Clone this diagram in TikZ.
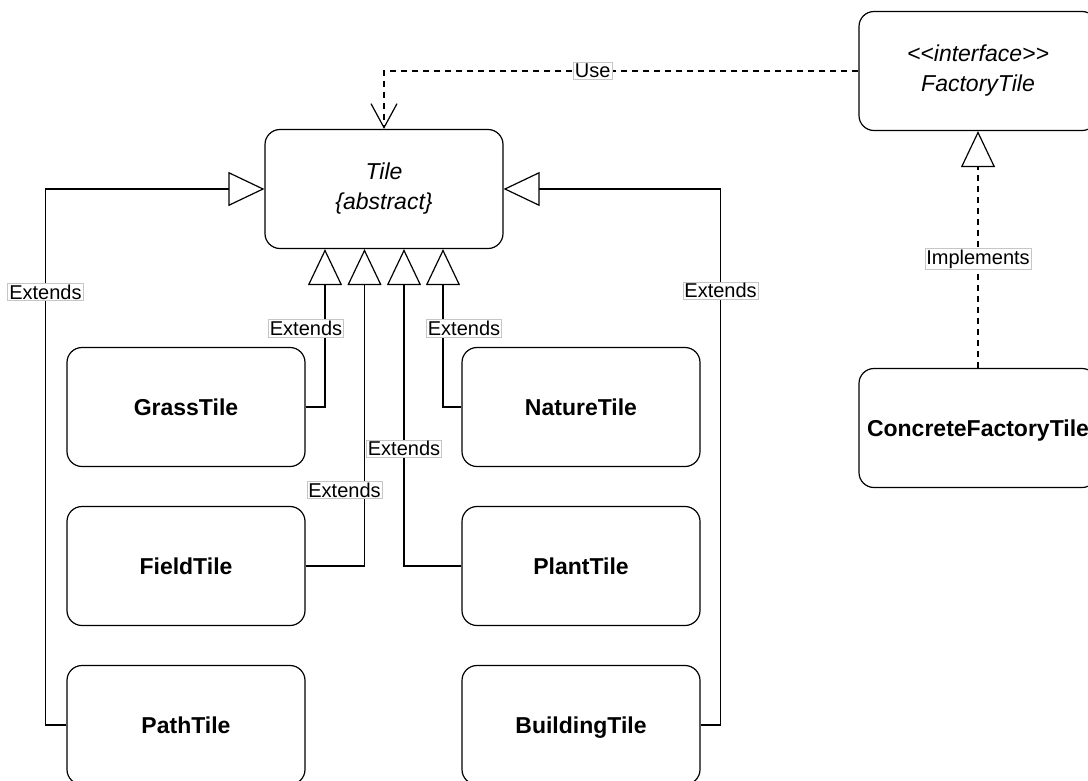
\documentclass[tikz,border=0pt]{standalone}
\usepackage{fontspec}
\setmainfont{Liberation Sans}
\usetikzlibrary{arrows.meta}
\tikzset{
  cls/.style={draw,rounded corners=15pt,minimum width=238pt,minimum height=119pt,align=center,line width=1.2pt,font=\fontsize{23}{30}\selectfont},
  leaf/.style={cls,text height=16.5pt,text depth=0pt},
  ext/.style={line width=1.2pt,-{Triangle[open,length=36pt,width=34pt]}},
  impl/.style={ext,dash pattern=on 6pt off 5pt},
  use/.style={line width=1.2pt,dash pattern=on 6pt off 5pt,-{Straight Barb[length=24pt,width=26pt]}},
  lbl/.style={solid,fill=white,draw=gray!45,line width=.6pt,inner sep=1.5pt,font=\fontsize{20}{22}\selectfont}
}
\begin{document}
\begin{tikzpicture}[x=1pt,y=-1pt]
\useasboundingbox(0,0)rectangle(1088,780);
\node[cls,font=\fontsize{23}{30}\selectfont\itshape](tile)at(384,189){Tile\\\{abstract\}};
\node[cls,font=\fontsize{23}{30}\selectfont\itshape](factory)at(978,71){{<}{<}interface{>}{>}\\FactoryTile};
\node[leaf](concrete)at(978,428){\textbf{ConcreteFactoryTile}};

\node[leaf](grass)at(186,407){\textbf{GrassTile}};
\node[leaf](field)at(186,566){\textbf{FieldTile}};
\node[leaf](path)at(186,725){\textbf{PathTile}};
\node[leaf](nature)at(581,407){\textbf{NatureTile}};
\node[leaf](plant)at(581,566){\textbf{PlantTile}};
\node[leaf](building)at(581,725){\textbf{BuildingTile}};

\draw[ext](grass.east)-|([xshift=-59pt]tile.south)node[lbl,pos=.75,xshift=-19pt]{Extends};
\draw[ext](field.east)-|([xshift=-19.5pt]tile.south)node[lbl,pos=.62,xshift=-20pt]{Extends};
\draw[ext](plant.west)-|([xshift=20pt]tile.south)node[lbl,pos=.685]{Extends};
\draw[ext](nature.west)-|([xshift=59pt]tile.south)node[lbl,pos=.75,xshift=21pt]{Extends};
\draw[ext](path.west)--++(-21,0)|-(tile.west)node[lbl,pos=.404]{Extends};
\draw[ext](building.east)--++(20,0)|-(tile.east)node[lbl,pos=.405]{Extends};

\draw[use](factory.west)-|(tile.north)node[lbl,pos=.28]{Use};
\draw[impl](concrete.north)--(factory.south)node[lbl,pos=.46]{Implements};
\end{tikzpicture}
\end{document}
